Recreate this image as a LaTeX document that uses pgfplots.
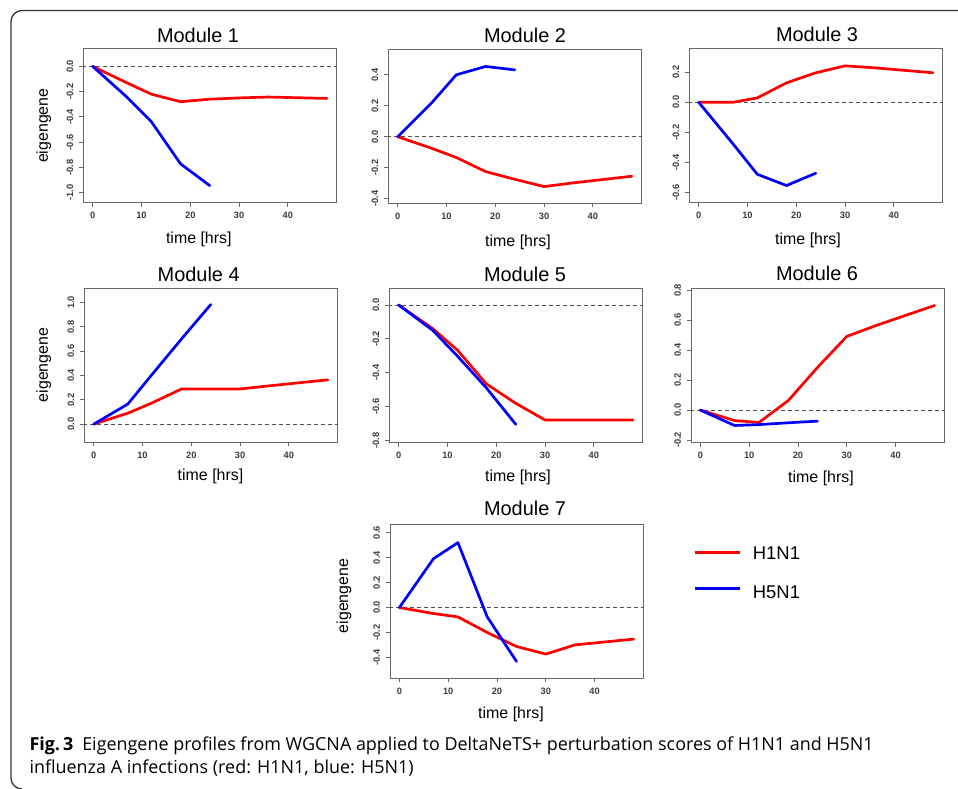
\documentclass[border=0pt]{standalone}
\usepackage{fontspec}
\setmainfont{Liberation Sans}
\newfontfamily\capfont{Open Sans}
\usepackage{pgfplots}
\pgfplotsset{compat=1.18}
\definecolor{h1}{RGB}{255,0,0}
\definecolor{h5}{RGB}{0,0,255}
\definecolor{boxgray}{RGB}{105,105,105}
\definecolor{tickgray}{RGB}{60,60,60}
\definecolor{dashgray}{RGB}{80,80,80}
\definecolor{framegray}{RGB}{50,50,50}
\pgfplotsset{mod/.style={
  scale only axis, width=253bp, height=154bp,
  xmin=-1.92, xmax=49.92,
  xtick={0,10,20,30,40},
  axis line style={draw=boxgray, line width=0.9bp},
  every tick/.style={draw=boxgray, line width=0.8bp},
  tick align=outside, major tick length=4bp,
  tick pos=left,
  ticklabel style={font=\fontsize{9.3}{9.3}\selectfont\bfseries, text=tickgray},
  /pgf/number format/assume math mode=true,
  yticklabel style={rotate=90, anchor=south, /pgf/number format/.cd, fixed, fixed zerofill, precision=1},
  xticklabel style={anchor=north},
  xticklabel shift=2bp, yticklabel shift=2.5bp,
  scaled y ticks=false,
  anchor=south west,
}}
\tikzset{
  zl/.style={dashgray, line width=0.9bp, dash pattern=on 4bp off 3bp},
  rl/.style={h1, line width=2.7bp, line join=round, line cap=round},
  bl/.style={h5, line width=2.7bp, line join=round, line cap=round},
}
\begin{document}
\begin{tikzpicture}
\path[use as bounding box] (0,0) rectangle (958bp,789bp);
\draw[framegray, line width=1.3bp] (958bp,778.5bp) -- (22bp,778.5bp) arc[start angle=90, end angle=180, radius=11bp] -- (11bp,11bp) arc[start angle=180, end angle=270, radius=11bp];

% Panel 1
\begin{axis}[mod, at={(83.3bp,586.3bp)}, ymin=-1.08, ymax=0.14, ytick={-1,-0.8,...,0.01}]
\addplot[zl] coordinates {(-5,0) (55,0)};
\addplot[rl] coordinates {(0,0) (7,-0.13) (12,-0.22) (18,-0.28) (24,-0.26) (30,-0.25) (36,-0.243) (48,-0.254)};
\addplot[bl] coordinates {(0,0) (7,-0.243) (12,-0.437) (18,-0.772) (24,-0.945)};
\end{axis}
% Panel 2
\begin{axis}[mod, at={(388.3bp,585.7bp)}, ymin=-0.43, ymax=0.565, ytick={-0.4,-0.2,0,0.2,0.4}]
\addplot[zl] coordinates {(-5,0) (55,0)};
\addplot[rl] coordinates {(0,0) (7,-0.075) (12,-0.134) (18,-0.225) (24,-0.275) (30,-0.322) (36,-0.298) (48,-0.255)};
\addplot[bl] coordinates {(0,0) (7,0.22) (12,0.40) (18,0.454) (24,0.432)};
\end{axis}
% Panel 3
\begin{axis}[mod, at={(689.3bp,586.3bp)}, ymin=-0.667, ymax=0.356, ytick={-0.6,-0.4,-0.2,0,0.2}]
\addplot[zl] coordinates {(-5,0) (55,0)};
\addplot[rl] coordinates {(0,0) (7,0.0) (12,0.029) (18,0.129) (24,0.196) (30,0.242) (36,0.229) (48,0.196)};
\addplot[bl] coordinates {(0,0) (7,-0.275) (12,-0.478) (18,-0.553) (24,-0.471)};
\end{axis}
% Panel 4
\begin{axis}[mod, at={(84.3bp,346.7bp)}, ymin=-0.149, ymax=1.116, ytick={0,0.2,0.4,0.6,0.8,1.0}]
\addplot[zl] coordinates {(-5,0) (55,0)};
\addplot[rl] coordinates {(0,0) (7,0.09) (12,0.175) (18,0.289) (24,0.289) (30,0.289) (36,0.315) (48,0.364)};
\addplot[bl] coordinates {(0,0) (7,0.165) (12,0.41) (18,0.70) (24,0.983)};
\end{axis}
% Panel 5
\begin{axis}[mod, at={(389.3bp,346.3bp)}, ymin=-0.812, ymax=0.096, ytick={-0.8,-0.6,-0.4,-0.2,0}]
\addplot[zl] coordinates {(-5,0) (55,0)};
\addplot[rl] coordinates {(0,0) (7,-0.14) (12,-0.265) (18,-0.466) (24,-0.58) (30,-0.678) (36,-0.678) (48,-0.678)};
\addplot[bl] coordinates {(0,0) (7,-0.15) (12,-0.30) (18,-0.49) (24,-0.704)};
\end{axis}
% Panel 6
\begin{axis}[mod, at={(691bp,346.3bp)}, ymin=-0.218, ymax=0.811, ytick={-0.2,0,0.2,0.4,0.6,0.8}]
\addplot[zl] coordinates {(-5,0) (55,0)};
\addplot[rl] coordinates {(0,0) (7,-0.07) (12,-0.083) (18,0.063) (24,0.285) (30,0.492) (36,0.565) (48,0.699)};
\addplot[bl] coordinates {(0,0) (7,-0.103) (12,-0.097) (18,-0.085) (24,-0.074)};
\end{axis}
% Panel 7
\begin{axis}[mod, at={(390bp,110.7bp)}, ymin=-0.567, ymax=0.667, ytick={-0.4,-0.2,0,0.2,0.4,0.6}]
\addplot[zl] coordinates {(-5,0) (55,0)};
\addplot[rl] coordinates {(0,0) (7,-0.048) (12,-0.075) (18,-0.2) (24,-0.312) (30,-0.373) (36,-0.299) (48,-0.253)};
\addplot[bl] coordinates {(0,0) (7,0.392) (12,0.52) (18,-0.075) (24,-0.432)};
\end{axis}

% titles
\begin{scope}[every node/.style={font=\fontsize{20}{20}\selectfont, inner sep=0pt, anchor=base}]
\node at (198bp,746.3bp) {Module 1};
\node at (525bp,746.3bp) {Module 2};
\node at (817bp,747bp) {Module 3};
\node at (198.7bp,507.3bp) {Module 4};
\node at (525bp,507.3bp) {Module 5};
\node at (817bp,508bp) {Module 6};
\node at (525bp,273bp) {Module 7};
\end{scope}
% x labels
\begin{scope}[every node/.style={font=\fontsize{16}{16}\selectfont, inner sep=0pt, anchor=base}]
\node at (198.8bp,545.7bp) {time [hrs]};
\node at (518bp,542.5bp) {time [hrs]};
\node at (808bp,544bp) {time [hrs]};
\node at (210.5bp,308bp) {time [hrs]};
\node at (518bp,307.3bp) {time [hrs]};
\node at (821bp,306.3bp) {time [hrs]};
\node at (511bp,70bp) {time [hrs]};
\end{scope}
% y labels
\begin{scope}[every node/.style={font=\fontsize{16}{16}\selectfont, inner sep=0pt, anchor=center, rotate=90}]
\node at (43.7bp,663.3bp) {eigengene};
\node at (43.7bp,424bp) {eigengene};
\node at (344bp,193bp) {eigengene};
\end{scope}
% legend
\draw[h1, line width=3bp] (695bp,236bp) -- (740bp,236bp);
\draw[h5, line width=3bp] (695bp,200bp) -- (740bp,200bp);
\node[font=\fontsize{18.5}{18.5}\selectfont, inner sep=0pt, anchor=base west] at (752.7bp,229bp) {H1N1};
\node[font=\fontsize{18.5}{18.5}\selectfont, inner sep=0pt, anchor=base west] at (752.7bp,190bp) {H5N1};
% caption
\node[font=\capfont\fontsize{18}{23.3}\selectfont, inner sep=0pt, anchor=base west] at (29.3bp,39bp) {{\bfseries Fig.\,3}\enspace Eigengene profiles from WGCNA applied to DeltaNeTS+ perturbation scores of H1N1 and H5N1};
\node[font=\capfont\fontsize{18}{23.3}\selectfont, inner sep=0pt, anchor=base west] at (29.3bp,15.7bp) {influenza A infections (red: H1N1, blue: H5N1)};
\end{tikzpicture}
\end{document}
